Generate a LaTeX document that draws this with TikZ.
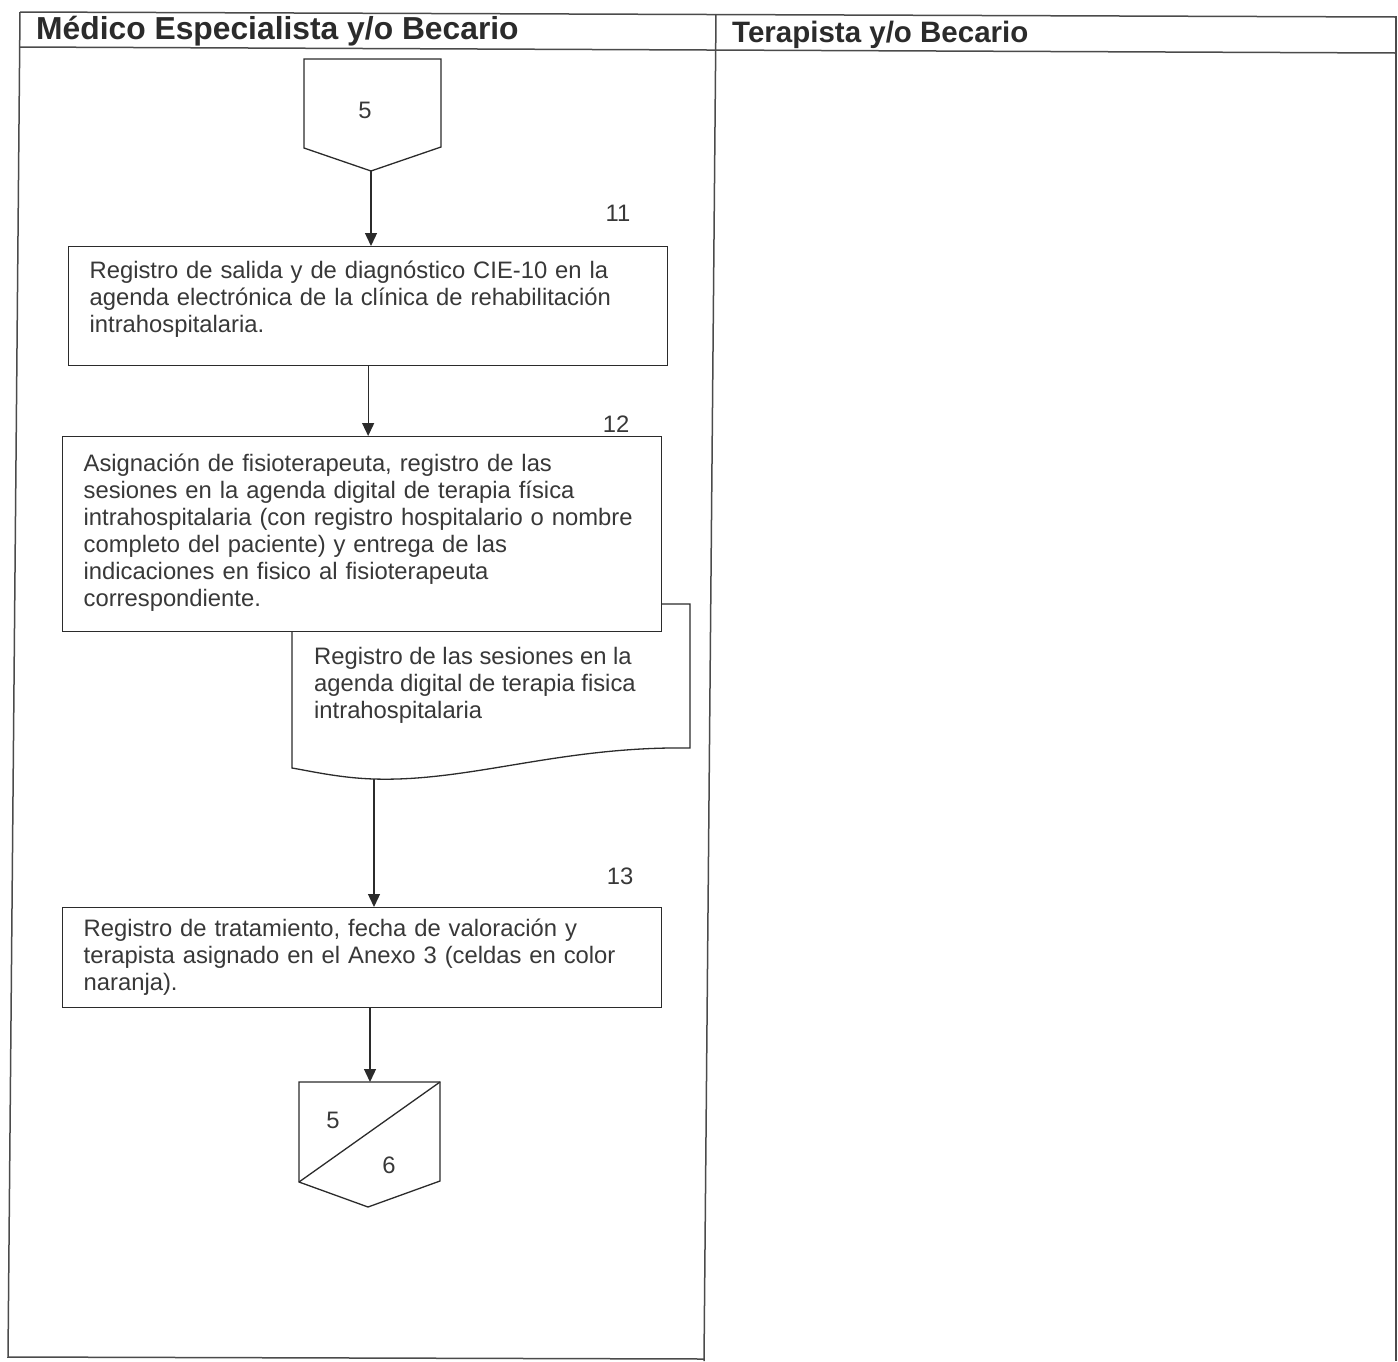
\documentclass[tikz,border=0pt]{standalone}
\usepackage{fontspec}
\setmainfont{Liberation Sans}
\usetikzlibrary{arrows.meta}
\definecolor{ink}{HTML}{2B2B2B}
\definecolor{txt}{HTML}{383838}
\begin{document}
\begin{tikzpicture}[x=1pt,y=-1pt,
  proc/.style={draw=ink, line width=1.3pt, fill=white, anchor=north west, align=left,
    inner xsep=21pt, inner ysep=0pt, text=txt, font=\fontsize{23.8}{27}\selectfont},
  doctext/.style={anchor=north west, align=left, inner sep=0pt, text=txt,
    font=\fontsize{23.8}{27}\selectfont},
  shapeline/.style={draw=ink, line width=1.3pt, fill=white, line join=miter},
  flow/.style={draw=ink, line width=1.3pt, -{Triangle[width=12pt,length=13pt]}},
  num/.style={text=txt, font=\fontsize{23.8}{27}\selectfont, inner sep=0pt},
  lane/.style={draw=ink!85, line width=1.5pt},
  head/.style={text=ink, font=\bfseries, anchor=base west, inner sep=0pt}]
\useasboundingbox (0,0) rectangle (1398,1361);

% swimlane table
\draw[lane] (20,12) -- (1396,17);
\draw[lane] (20,47) -- (1396,53);
\draw[lane] (20,12) -- (8,1357) -- (704,1359);
\draw[lane] (716,14) -- (704,1361);
\draw[lane] (1396,16) -- (1396,1361);
\node[head, font=\bfseries\fontsize{31.8}{34}\selectfont] (laneA) at (36,39) {Médico Especialista y/o Becario};
\node[head, font=\bfseries\fontsize{29.5}{34}\selectfont] (laneB) at (732,42) {Terapista y/o Becario};

% incoming off-page connector
\coordinate (inTip) at (371,171);
\draw[shapeline] (304,59) -- (441,59) -- (441,147) -- (inTip) -- (304,148) -- cycle;
\node[num] (in5) at (365,110) {5};

% step 11
\node[num] (n11) at (618,213) {11};
\node[proc, minimum width=599pt, minimum height=119pt, text width=557pt] (b11) at (68,246)
  {Registro de salida y de diagnóstico CIE-10 en la\\
   agenda electrónica de la clínica de rehabilitación\\
   intrahospitalaria.\rule[-18.5pt]{0pt}{1pt}};

% document (drawn first so step 12 overlaps it)
\coordinate (docBot) at (374,779);
\draw[shapeline] (292,604) -- (690,604) -- (690,748)
  .. controls (560,746) and (470,782) .. (docBot)
  .. controls (340,778) and (310,771) .. (292,768) -- cycle;
\node[doctext] (doc) at (314,647)
  {Registro de las sesiones en la\\
   agenda digital de terapia fisica\\
   intrahospitalaria};

% step 12
\node[num] (n12) at (616,424) {12};
\node[proc, minimum width=599pt, minimum height=195pt, text width=557pt] (b12) at (62,436)
  {Asignación de fisioterapeuta, registro de las\\
   sesiones en la agenda digital de terapia física\\
   intrahospitalaria (con registro hospitalario o nombre\\
   completo del paciente) y entrega de las\\
   indicaciones en fisico al fisioterapeuta\\
   correspondiente.\rule[-8.5pt]{0pt}{1pt}};

% step 13
\node[num] (n13) at (620,876) {13};
\node[proc, minimum width=599pt, minimum height=100pt, text width=557pt] (b13) at (62,907)
  {Registro de tratamiento, fecha de valoración y\\
   terapista asignado en el Anexo 3 (celdas en color\\
   naranja).};

% outgoing off-page connector
\coordinate (outTop) at (370,1082);
\draw[shapeline] (299,1082) -- (440,1082) -- (440,1181) -- (368,1207) -- (299,1182) -- cycle;
\draw[draw=ink, line width=1.3pt] (299,1182) -- (440,1082);
\node[num] (out5) at (333,1120) {5};
\node[num] (out6) at (389,1165) {6};

% connectors
\draw[flow] (inTip) -- (inTip |- b11.north);
\draw[flow] (b11.south) -- (b11.south |- b12.north);
\draw[flow] (docBot) -- (docBot |- b13.north);
\draw[flow] (b13.south -| outTop) -- (outTop);
\end{tikzpicture}
\end{document}
